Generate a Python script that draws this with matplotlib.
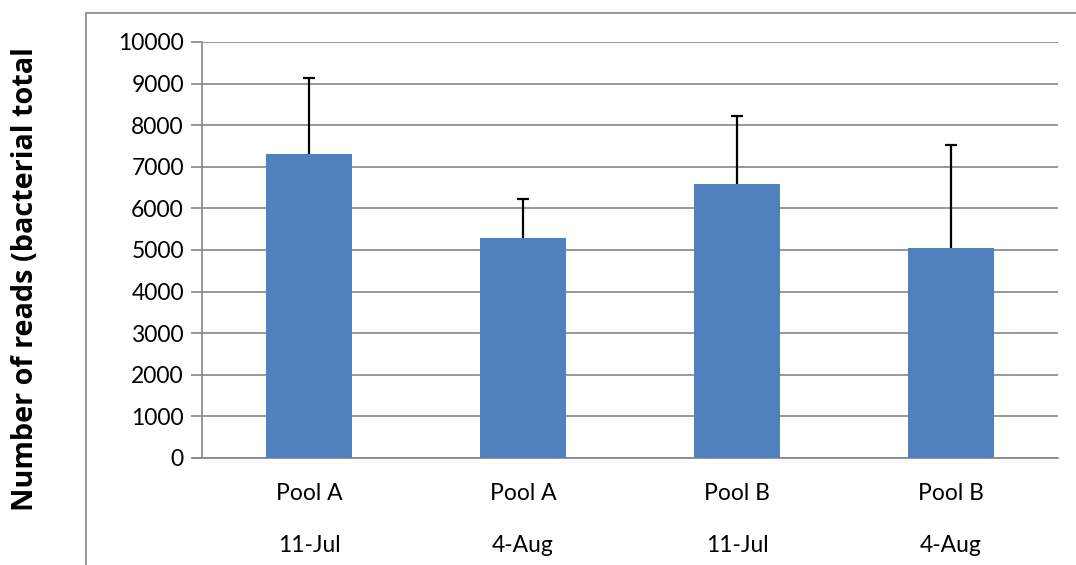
import matplotlib
matplotlib.use("Agg")
import matplotlib.pyplot as plt
from matplotlib.patches import Rectangle

pools = ["Pool A", "Pool A", "Pool B", "Pool B"]
dates = ["11-Jul", "4-Aug", "11-Jul", "4-Aug"]
values = [7315, 5296, 6579, 5040]
errors = [1827, 930, 1649, 2484]
yticks = [0, 1000, 2000, 3000, 4000, 5000, 6000, 7000, 8000, 9000, 10000]
ylabel = "Number of reads (bacterial total"

plt.rcParams['font.family'] = ['Lato', 'DejaVu Sans']
W, H = 1076, 565
fig = plt.figure(figsize=(W / 100, H / 100), dpi=100)
ax = fig.add_axes([202 / W, 1 - 458 / H, (1058 - 202) / W, (458 - 42) / H])

grid_c = "#868686"
bar_c = "#4f81bd"
x = list(range(len(values)))
tops = [v + e for v, e in zip(values, errors)]
ax.bar(x, values, width=0.4, color=bar_c, zorder=3)
ax.vlines(x, values, tops, color="black", linewidth=1.6, zorder=4)
ax.hlines(tops, [i - 0.028 for i in x], [i + 0.028 for i in x],
          color="black", linewidth=1.6, zorder=4)

ax.set_xlim(-0.5, len(values) - 0.5)
ax.set_ylim(0, 10000)
ax.set_yticks(yticks)
ax.set_yticklabels([str(t) for t in yticks], fontsize=16.5, color="black")
ax.set_xticks(x)
ax.set_xticklabels([f"{p}\n\n{d}" for p, d in zip(pools, dates)], fontsize=16.5,
                   linespacing=1.3)
ax.tick_params(axis="x", length=0, pad=18)
ax.tick_params(axis="y", length=8, width=1.2, color=grid_c, pad=5, direction="out")
ax.grid(axis="y", color=grid_c, linewidth=1.2, zorder=0)
for s in ["top", "right"]:
    ax.spines[s].set_visible(False)
ax.spines["left"].set_color(grid_c)
ax.spines["left"].set_linewidth(1.2)
ax.spines["bottom"].set_color(grid_c)
ax.spines["bottom"].set_linewidth(1.2)
ax.spines["bottom"].set_bounds(-0.5 - 8 / 214, len(values) - 0.5)

# chart area border
fig.patches.append(Rectangle((86 / W, -0.1), 1.2, 1 - 13 / H + 0.1,
                             transform=fig.transFigure, fill=False,
                             edgecolor=grid_c, linewidth=1.2))

fig.text(26 / W, 1 - 279 / H, ylabel, rotation=90, fontsize=20.8,
         fontweight="bold", family=["Open Sans", "DejaVu Sans"],
         ha="center", va="center")

fig.savefig("out.png", dpi=100)
